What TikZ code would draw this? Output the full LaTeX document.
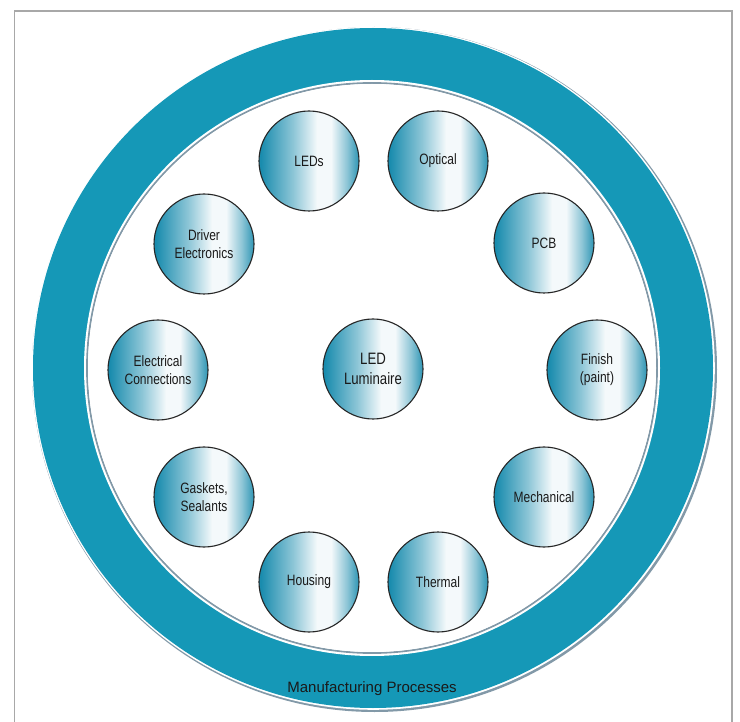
\documentclass[tikz,border=0pt]{standalone}
\usepackage{fontspec}
\setmainfont{Liberation Sans}
\newfontfamily\lblfont[FakeStretch=0.80]{Liberation Sans}
\definecolor{ringteal}{HTML}{1598B7}
\definecolor{ringgray}{HTML}{8299A8}
\definecolor{frameg}{HTML}{A8A8A8}
\definecolor{balla}{HTML}{1A8CAE}
\definecolor{ballb}{HTML}{2E95B4}
\definecolor{ballw}{HTML}{F4F9FB}
\definecolor{txt}{HTML}{1A1A1A}
\pgfdeclarehorizontalshading{ballshade}{100bp}{color(0bp)=(balla); color(26bp)=(balla); color(42bp)=(balla!50!white); color(54bp)=(ballw); color(61bp)=(ballw); color(69bp)=(ballb!55!white); color(75bp)=(ballb); color(100bp)=(ballb)}
\tikzset{
  part/.style={circle, minimum size=100pt, inner sep=0pt, draw=black!85, line width=1.1pt,
    shading=ballshade, align=center, text=txt, font=\lblfont\fontsize{15}{18}\selectfont},
  hub/.style={part, font=\lblfont\fontsize{16.5}{19.5}\selectfont},
  ringlabel/.style={text=txt, font=\fontsize{15}{18}\selectfont, anchor=base}
}
\begin{document}
\begin{tikzpicture}[x=1pt,y=-1pt]
\useasboundingbox (0,0) rectangle (740,722);
\fill[white] (0,0) rectangle (740,722);
% frame
\draw[frameg, line width=1.5pt] (14.5,730) -- (14.5,11) -- (732,11) -- (732,730);
% outer ring with shadow line
\fill[ringgray] (374.5,369.5) circle[radius=342.5];
\fill[white] (373.3,368.3) circle[radius=341.5];
\fill[ringteal] (373,368) circle[radius=340];
\fill[white] (372,368) circle[radius=288];
\draw[ringgray, line width=1.8pt] (372,368) circle[radius=285];
\fill[white] (372,368) circle[radius=284];
% parts
\node[part] (leds) at (309,161) {LEDs};
\node[part] (optical) at (438,161) {Optical};
\node[part] (pcb) at (544,243) {PCB};
\node[part] (finish) at (597,370) {Finish\\(paint)};
\node[part] (mech) at (544,497) {Mechanical};
\node[part] (thermal) at (438,582) {Thermal};
\node[part] (housing) at (309,582) {Housing};
\node[part] (gaskets) at (204,497) {Gaskets,\\Sealants};
\node[part] (elec) at (158,370) {Electrical\\Connections};
\node[part] (driver) at (204,244) {Driver\\Electronics};
\node[hub] (lum) at (373,369) {LED\\Luminaire};
\node[ringlabel] (mp) at (372,692) {Manufacturing Processes};
\end{tikzpicture}
\end{document}
